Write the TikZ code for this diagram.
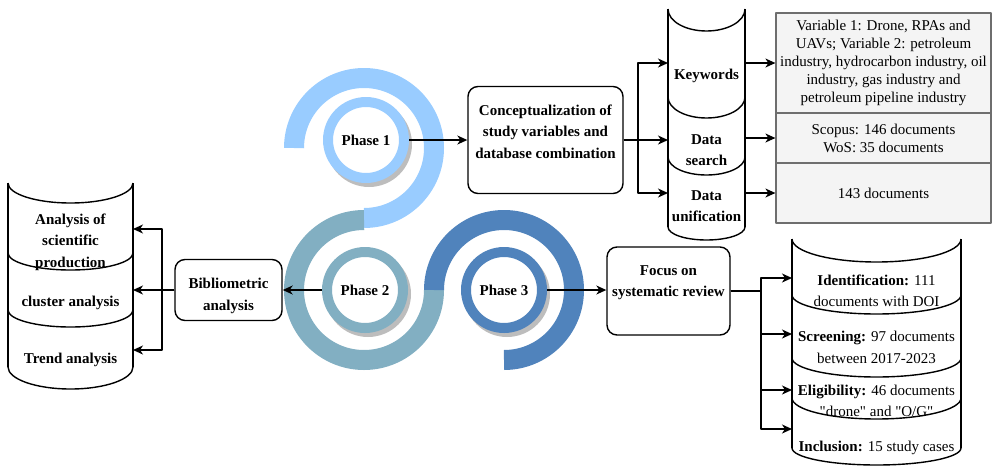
\documentclass[tikz,border=0pt]{standalone}
\usepackage{fontspec}
\setmainfont{Liberation Serif}
\usetikzlibrary{arrows.meta}

\definecolor{phaseA}{HTML}{99CCFF}
\definecolor{phaseB}{HTML}{82AFC2}
\definecolor{phaseC}{HTML}{5083BC}
\definecolor{ringshadow}{HTML}{BDBDBD}
\definecolor{panelfill}{HTML}{F4F4F4}
\definecolor{panelline}{HTML}{6E6E6E}

\begin{document}
\begin{tikzpicture}[x=1pt, y=-1pt, line join=round,
  arr/.style={line width=1.4pt, -{Stealth[length=10pt,width=9pt,inset=3pt]}},
  link/.style={line width=1.4pt},
  cyl/.style={line width=1.4pt},
  rbox/.style={draw, line width=1.4pt, rounded corners=10pt, fill=white, inner sep=0pt},
  panel/.style={draw=panelline, fill=panelfill, line width=1.2pt, inner sep=0pt,
                align=center, font=\fontsize{15}{18}\selectfont},
  lbl/.style={align=center, inner sep=0pt, font=\fontsize{15}{21.5}\selectfont},
  ring/.style={circle, draw=#1, line width=10pt, fill=white, minimum size=76pt,
               inner sep=0pt, font=\bfseries\fontsize{15}{18}\selectfont},
  band/.style={line width=20pt, draw=#1}
]
\useasboundingbox (0,0) rectangle (992,466);

% ---- spiral bands of the three phases ----
\draw[band=phaseA] (294,148) arc[start angle=180, end angle=450, radius=70];
\draw[band=phaseB] (364,220) arc[start angle=270, end angle=0, radius=70];
\draw[band=phaseC] (434,290) arc[start angle=180, end angle=450, radius=70];

% ---- phase rings with their shadows ----
\fill[ringshadow] (369,144) circle[radius=43];
\node[ring=phaseA] (p1) at (366,140) {Phase 1};
\fill[ringshadow] (368,294) circle[radius=43];
\node[ring=phaseB] (p2) at (365,290) {Phase 2};
\fill[ringshadow] (507,294) circle[radius=43];
\node[ring=phaseC] (p3) at (504,290) {Phase 3};

% ---- process boxes ----
\node[rbox, minimum width=155pt, minimum height=107pt] (concept) at (545.5,140) {};
\node[lbl] (conceptT) at (545.5,131.5)
  {\textbf{Conceptualization of}\\\textbf{study variables and}\\\textbf{database combination}};

\node[rbox, minimum width=107pt, minimum height=61pt] (bib) at (228.5,290) {};
\node[lbl] (bibT) at (228.5,296) {\textbf{Bibliometric}\\\textbf{analysis}};

\node[rbox, minimum width=123pt, minimum height=88pt] (focus) at (668.5,291) {};
\node[lbl] (focusT) at (668.5,282.5) {\textbf{Focus on}\\\textbf{systematic review}};

% ---- stacked cylinder: search steps ----
\draw[cyl] (668,9) -- (668,227);
\draw[cyl] (745,9) -- (745,227);
\draw[cyl] (668,9)   arc[start angle=180, end angle=0, x radius=38.5, y radius=22];
\draw[cyl] (668,97)  arc[start angle=180, end angle=0, x radius=38.5, y radius=21];
\draw[cyl] (668,157) arc[start angle=180, end angle=0, x radius=38.5, y radius=18];
\draw[cyl] (668,227) arc[start angle=180, end angle=0, x radius=38.5, y radius=13];
\node[lbl] (kw) at (706.5,76) {\textbf{Keywords}};
\node[lbl] (ds) at (706.5,150) {\textbf{Data}\\\textbf{search}};
\node[lbl] (du) at (706.5,206) {\textbf{Data}\\\textbf{unification}};
\coordinate (kwIn) at (668,63);
\coordinate (dsIn) at (668,140);
\coordinate (duIn) at (668,193);
\coordinate (kwOut) at (745,63);
\coordinate (dsOut) at (745,138);
\coordinate (duOut) at (745,193);

% ---- result panels ----
\node[panel, minimum width=215pt, minimum height=100pt] (vars) at (883.5,63)
  {Variable 1: Drone, RPAs and\\UAVs; Variable 2: petroleum\\industry, hydrocarbon industry, oil\\industry, gas industry and\\petroleum pipeline industry};
\node[panel, minimum width=215pt, minimum height=50pt] (bases) at (883.5,138)
  {Scopus: 146 documents\\WoS: 35 documents};
\node[panel, minimum width=215pt, minimum height=60pt] (merged) at (883.5,193)
  {143 documents};

% ---- stacked cylinder: bibliometric outputs ----
\draw[cyl] (8,183) -- (8,367);
\draw[cyl] (133,183) -- (133,367);
\draw[cyl] (8,183) arc[start angle=180, end angle=0, x radius=62.5, y radius=20];
\draw[cyl] (8,253) arc[start angle=180, end angle=0, x radius=62.5, y radius=17];
\draw[cyl] (8,310) arc[start angle=180, end angle=0, x radius=62.5, y radius=17];
\draw[cyl] (8,367) arc[start angle=180, end angle=0, x radius=62.5, y radius=22];
\node[lbl] (asp) at (70.5,242) {\textbf{Analysis of}\\\textbf{scientific}\\\textbf{production}};
\node[lbl] (clu) at (70.5,303) {\textbf{cluster analysis}};
\node[lbl] (tre) at (70.5,360) {\textbf{Trend analysis}};
\coordinate (aspIn) at (133,229);
\coordinate (cluIn) at (133,290);
\coordinate (treIn) at (133,350);

% ---- stacked cylinder: systematic review stages ----
\draw[cyl] (792,239) -- (792,448);
\draw[cyl] (961,239) -- (961,448);
\draw[cyl] (792,239) arc[start angle=180, end angle=0, x radius=84.5, y radius=23];
\draw[cyl] (792,295) arc[start angle=180, end angle=0, x radius=84.5, y radius=19];
\draw[cyl] (792,358) arc[start angle=180, end angle=0, x radius=84.5, y radius=19];
\draw[cyl] (792,398) arc[start angle=180, end angle=0, x radius=84.5, y radius=21];
\draw[cyl] (792,448) arc[start angle=180, end angle=0, x radius=84.5, y radius=17];
\node[lbl] (idn) at (876.5,291) {\textbf{Identification:} 111\\documents with DOI};
\node[lbl] (scr) at (876.5,347.5) {\textbf{Screening:} 97 documents\\between 2017-2023};
\node[lbl] (eli) at (876.5,401) {\textbf{Eligibility:} 46 documents\\\textquotedbl drone\textquotedbl{} and \textquotedbl O/G\textquotedbl};
\node[lbl] (inc) at (876.5,448) {\textbf{Inclusion:} 15 study cases};
\coordinate (idnIn) at (792,278);
\coordinate (scrIn) at (792,334);
\coordinate (eliIn) at (792,390);
\coordinate (incIn) at (792,429);

% ---- connectors ----
\coordinate (jA) at (638,140);
\coordinate (jB) at (162,290);
\coordinate (jC) at (761,291);

\draw[arr] (p1.east) -- (concept.west |- p1.east);
\draw[arr] (concept.east) -- (jA) |- (kwIn);
\draw[arr] (concept.east) -- (dsIn);
\draw[arr] (concept.east) -- (jA) |- (duIn);
\draw[arr] (kwOut) -- (vars.west |- kwOut);
\draw[arr] (dsOut) -- (bases.west |- dsOut);
\draw[arr] (duOut) -- (merged.west |- duOut);

\draw[arr] (p2.west) -- (bib.east |- p2.west);
\draw[arr] (bib.west) -- (jB) |- (aspIn);
\draw[arr] (bib.west) -- (cluIn);
\draw[arr] (bib.west) -- (jB) |- (treIn);

\draw[arr] (p3.east) -- (focus.west |- p3.east);
\draw[arr] (focus.east) -- (jC) |- (idnIn);
\draw[arr] (focus.east) -- (jC) |- (scrIn);
\draw[arr] (focus.east) -- (jC) |- (eliIn);
\draw[arr] (focus.east) -- (jC) |- (incIn);
\end{tikzpicture}
\end{document}
